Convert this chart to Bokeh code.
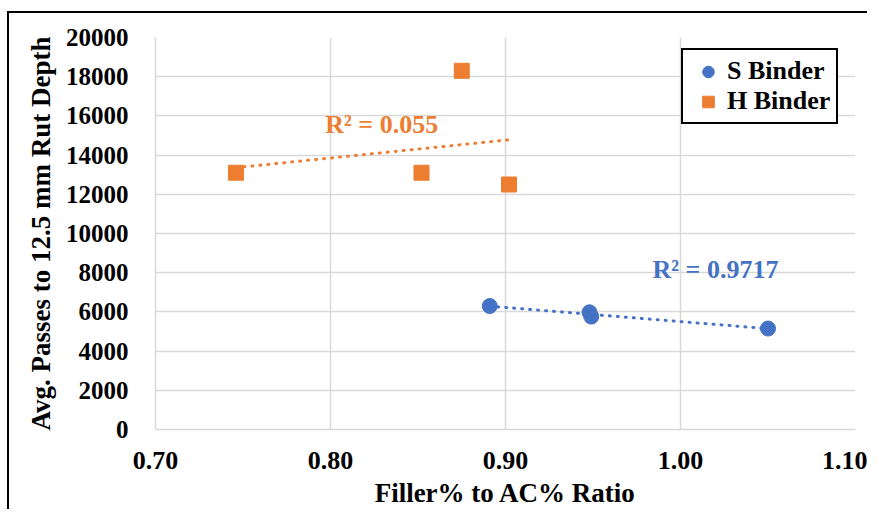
import numpy as np
from bokeh.plotting import figure
from bokeh.models import Range1d, FixedTicker, Legend, LegendItem
from bokeh.core.properties import value
from bokeh.embed import file_html
from bokeh.resources import INLINE

# Data
s_ratio = [0.891, 0.948, 0.949, 1.050]
s_passes = [6300, 5980, 5760, 5150]
h_ratio = [0.746, 0.852, 0.875, 0.902]
h_passes = [13100, 13100, 18300, 12500]
s_r2_label = "R² = 0.9717"
h_r2_label = "R² = 0.055"
x_ticks = [0.70, 0.80, 0.90, 1.00, 1.10]
y_ticks = list(range(0, 20001, 2000))

BLUE = "#4472C4"
ORANGE = "#ED7D31"
FONT = "'Liberation Serif', 'Times New Roman', serif"

p = figure(width=860, height=498, output_backend="svg", toolbar_location=None,
           x_range=Range1d(0.70, 1.10), y_range=Range1d(0, 20000),
           min_border_left=146, min_border_right=14, min_border_top=24, min_border_bottom=82,
           styles={"border-left": "2px solid black", "border-top": "2px solid black",
                   "margin-left": "7px", "margin-top": "11px"})
p.outline_line_color = None
p.background_fill_color = "white"
p.border_fill_color = "white"

for ax in (p.xaxis[0], p.yaxis[0]):
    ax.axis_line_color = "#D9D9D9"
    ax.axis_line_width = 1.5
    ax.major_tick_line_color = None
    ax.minor_tick_line_color = None
    ax.major_label_text_font = FONT
    ax.major_label_text_font_style = "bold"
    ax.major_label_text_color = "black"
    ax.axis_label_text_font = FONT
    ax.axis_label_text_font_style = "bold"
    ax.axis_label_text_color = "black"

p.xaxis.ticker = FixedTicker(ticks=x_ticks)
p.yaxis.ticker = FixedTicker(ticks=y_ticks)
p.xaxis.major_label_overrides = {t: f"{t:.2f}" for t in x_ticks}
p.xaxis.major_label_text_font_size = "26px"
p.yaxis.major_label_text_font_size = "25px"
p.xaxis.major_label_standoff = 16
p.yaxis.major_label_standoff = 21
p.xaxis.axis_label = "Filler% to AC% Ratio"
p.yaxis.axis_label = "Avg. Passes to 12.5 mm Rut Depth"
p.xaxis.axis_label_text_font_size = "27px"
p.yaxis.axis_label_text_font_size = "27px"
p.xaxis.axis_label_standoff = 6
p.yaxis.axis_label_standoff = 7

p.xgrid.grid_line_color = "#D9D9D9"
p.ygrid.grid_line_color = "#D9D9D9"
p.xgrid.grid_line_width = 1.5
p.ygrid.grid_line_width = 1.5

# Trend lines (linear least squares over each series' range)
def trend(xs, ys):
    m, b = np.polyfit(xs, ys, 1)
    x0, x1 = min(xs), max(xs)
    return [x0, x1], [m * x0 + b, m * x1 + b]

hx, hy = trend(h_ratio, h_passes)
sx, sy = trend(s_ratio, s_passes)
p.line(hx, hy, line_color=ORANGE, line_width=3, line_dash="1 7", line_cap="round")
p.line(sx, sy, line_color=BLUE, line_width=3, line_dash="1 7", line_cap="round")

rs = p.scatter(s_ratio, s_passes, marker="circle", size=15, fill_color=BLUE, line_color=BLUE)
rh = p.scatter(h_ratio, h_passes, marker="square", size=15, fill_color=ORANGE, line_color=ORANGE)

p.text(x=[0.797], y=[15560], text=[h_r2_label], text_color=ORANGE, text_font=value(FONT),
       text_font_style="bold", text_font_size="26px", text_baseline="middle", text_align="left")
p.text(x=[0.984], y=[8160], text=[s_r2_label], text_color=BLUE, text_font=value(FONT),
       text_font_style="bold", text_font_size="26px", text_baseline="middle", text_align="left")

legend = Legend(items=[LegendItem(label="S Binder", renderers=[rs]),
                       LegendItem(label="H Binder", renderers=[rh])],
                location=(526, 305))
legend.border_line_color = "black"
legend.border_line_alpha = 1.0
legend.border_line_width = 2
legend.background_fill_color = "white"
legend.background_fill_alpha = 1
legend.label_text_font = FONT
legend.label_text_font_style = "bold"
legend.label_text_font_size = "26px"
legend.label_text_color = "black"
legend.padding = 6
legend.spacing = 0
legend.glyph_width = 38
legend.glyph_height = 29
legend.label_height = 29
legend.label_standoff = -6
legend.margin = 0
p.add_layout(legend, "center")

open("out.html", "w").write(file_html(p, INLINE))
